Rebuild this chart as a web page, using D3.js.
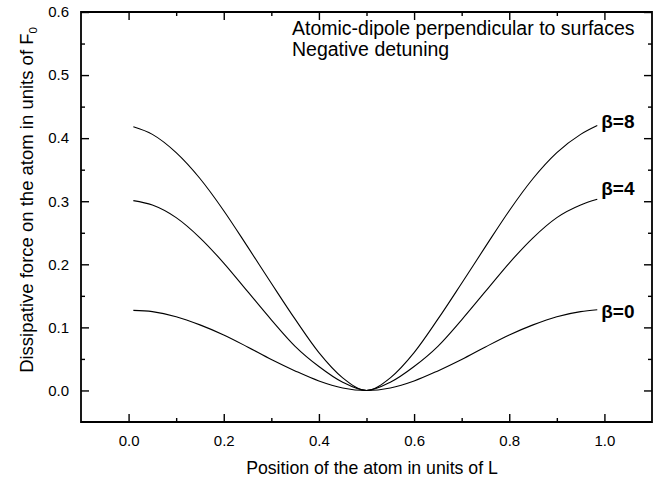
<!DOCTYPE html>
<html><head><meta charset="utf-8">
<script src="https://cdn.jsdelivr.net/npm/d3@7"></script>
<style>body{margin:0;background:#fff}svg{display:block}</style>
</head><body><svg id="c" width="665" height="485" xmlns="http://www.w3.org/2000/svg"></svg>
<script>
// ---- data ----
const positions = [0.01,0.05,0.10,0.15,0.20,0.25,0.30,0.35,0.40,0.45,0.50,0.55,0.60,0.65,0.70,0.75,0.80,0.85,0.90,0.95,0.985];
const beta0 = [0.127,0.125,0.117,0.104,0.088,0.069,0.049,0.031,0.015,0.004,0.000,0.004,0.015,0.031,0.049,0.069,0.088,0.104,0.117,0.125,0.128];
const beta4 = [0.301,0.294,0.274,0.242,0.202,0.157,0.112,0.070,0.038,0.013,0.000,0.013,0.038,0.070,0.112,0.157,0.202,0.242,0.274,0.294,0.303];
const beta8 = [0.418,0.406,0.377,0.336,0.285,0.228,0.170,0.113,0.060,0.020,0.000,0.020,0.060,0.113,0.170,0.228,0.285,0.336,0.377,0.406,0.420];
const seriesNames = ["β=0","β=4","β=8"];
const xTicks = [0.0,0.2,0.4,0.6,0.8,1.0];
const xMinor = [0.1,0.3,0.5,0.7,0.9];
const yTicks = [0.0,0.1,0.2,0.3,0.4,0.5,0.6];
const yMinor = [0.05,0.15,0.25,0.35,0.45,0.55];
const xTitle = "Position of the atom in units of L";
const yTitle = "Dissipative force on the atom in units of F";
const noteLines = ["Atomic-dipole perpendicular to surfaces","Negative detuning"];

// ---- layout ----
const W = 665, H = 485;
const m = {left:81, right:13, top:12, bottom:63};
const svg = d3.select("#c");
const x = d3.scaleLinear().domain([-0.1,1.1]).range([m.left, W-m.right]);
const y = d3.scaleLinear().domain([-0.05,0.6]).range([H-m.bottom, m.top]);
const font = "'Liberation Sans', Arial, Helvetica, sans-serif";
const x0 = x.range()[0], x1 = x.range()[1], y0 = y.range()[0], y1 = y.range()[1];

// tick marks only (no text in these groups)
function marks(axis, tx, ty){
  const g = svg.append("g").attr("transform",`translate(${tx},${ty})`).call(axis.tickFormat(""));
  g.select(".domain").remove();
  g.selectAll("text").remove();
  g.selectAll(".tick line").attr("stroke","#000").attr("stroke-width",1.4);
}
marks(d3.axisBottom(x).tickValues(xTicks).tickSize(-8), 0, y0);
marks(d3.axisBottom(x).tickValues(xMinor).tickSize(-4), 0, y0);
marks(d3.axisTop(x).tickValues(xTicks).tickSize(-8), 0, y1);
marks(d3.axisTop(x).tickValues(xMinor).tickSize(-4), 0, y1);
marks(d3.axisLeft(y).tickValues(yTicks).tickSize(-8), x0, 0);
marks(d3.axisLeft(y).tickValues(yMinor).tickSize(-4), x0, 0);
marks(d3.axisRight(y).tickValues(yTicks).tickSize(-8), x1, 0);
marks(d3.axisRight(y).tickValues(yMinor).tickSize(-4), x1, 0);

// frame
svg.append("path")
  .attr("d",`M${x0},${y0}L${x1},${y0}L${x1},${y1}L${x0},${y1}Z`)
  .attr("fill","none").attr("stroke","#000").attr("stroke-width",1.8);

// tick labels only (separate groups, no lines)
function labels(axis, tx, ty){
  const g = svg.append("g").attr("transform",`translate(${tx},${ty})`).call(axis);
  g.select(".domain").remove();
  g.selectAll(".tick line").remove();
  g.selectAll("text").attr("font-family",font).attr("font-size",15).attr("fill","#000");
}
labels(d3.axisBottom(x).tickValues(xTicks).tickFormat(d3.format(".1f")).tickSize(0).tickPadding(13), 0, y0);
labels(d3.axisLeft(y).tickValues(yTicks).tickFormat(d3.format(".1f")).tickSize(0).tickPadding(12), x0, 0);

// curves
const line = d3.line().x((d,i)=>x(positions[i])).y(d=>y(d)).curve(d3.curveMonotoneX);
const series = [beta0,beta4,beta8];
svg.append("g").selectAll("path").data(series).join("path")
  .attr("d",line).attr("fill","none").attr("stroke","#000").attr("stroke-width",1.1);

// series labels at the right end of each curve
const labelDy = [8,-4,2];
svg.append("g").selectAll("text").data(series).join("text")
  .attr("x",()=>x(positions[positions.length-1])+4)
  .attr("y",(d,i)=>y(d[d.length-1])+labelDy[i])
  .attr("font-family",font).attr("font-size",19).attr("font-weight","bold")
  .text((d,i)=>seriesNames[i]);

// note
svg.append("g").selectAll("text").data(noteLines).join("text")
  .attr("x",292).attr("y",(d,i)=>35+i*21)
  .attr("font-family",font).attr("font-size",19.5)
  .text(d=>d);

// axis titles
svg.append("text").attr("x",372).attr("y",474)
  .attr("text-anchor","middle").attr("font-family",font).attr("font-size",17.7)
  .text(xTitle);
const yt = svg.append("text").attr("transform","translate(33,200) rotate(-90)")
  .attr("text-anchor","middle").attr("font-family",font).attr("font-size",18.5);
yt.append("tspan").text(yTitle);
yt.append("tspan").attr("font-size",11.5).attr("dy",4).text("0");
</script></body></html>
